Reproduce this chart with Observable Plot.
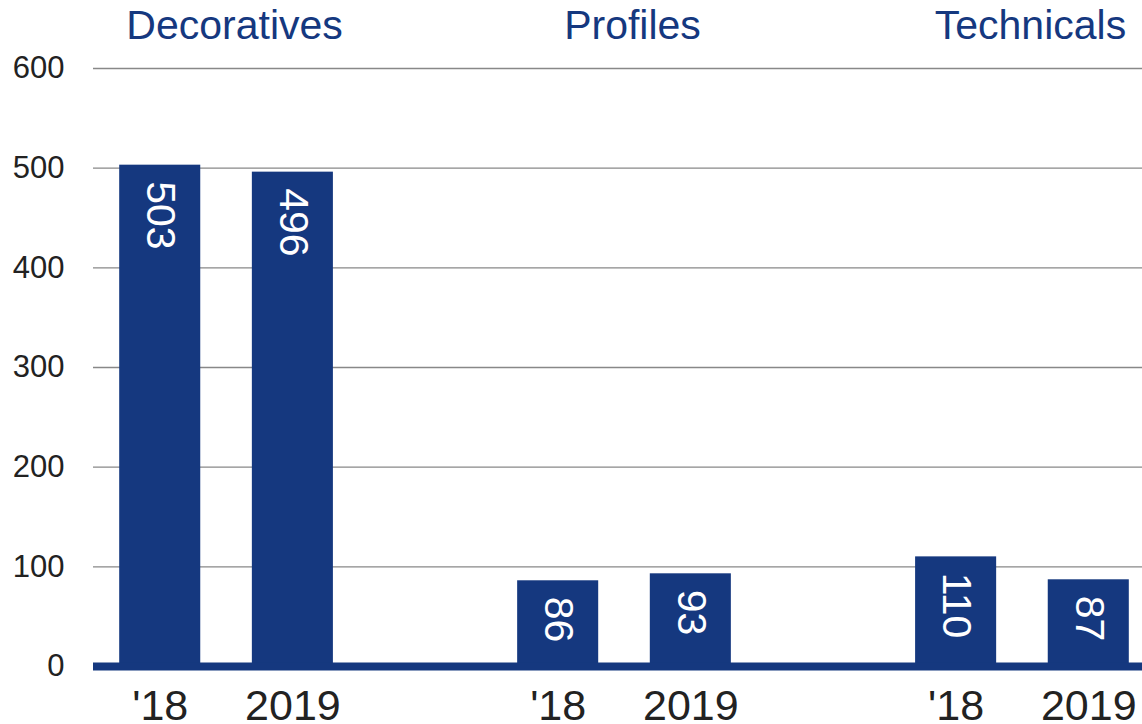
<!DOCTYPE html>
<html>
<head>
<meta charset="utf-8">
<script src="https://cdn.jsdelivr.net/npm/d3@7"></script>
<script src="https://cdn.jsdelivr.net/npm/@observablehq/plot@0.6"></script>
<style>
  html, body { margin: 0; padding: 0; background: #fff; overflow: hidden; }
  #chart svg { display: block; }
</style>
</head>
<body>
<div id="chart"></div>
<script>
// ---- data ----
const groups = ["Decoratives", "Profiles", "Technicals"];
const years = ["'18", "2019"];
const decoratives = [503, 496];
const profiles = [86, 93];
const technicals = [110, 87];
const yTicks = [0, 100, 200, 300, 400, 500, 600];

const seriesByGroup = [decoratives, profiles, technicals];
const data = [];
groups.forEach((g, gi) => years.forEach((y, yi) => data.push({group: g, year: y, key: `${g}|${y}`, value: seriesByGroup[gi][yi]})));

// band domain with empty spacer slots between groups
const xDomain = [];
groups.forEach((g, gi) => {
  years.forEach(y => xDomain.push(`${g}|${y}`));
  if (gi < groups.length - 1) xDomain.push(`gap${gi}`);
});

const blue = "#15387f";
const font = "'Liberation Sans', Arial, Helvetica, sans-serif";

const xOpts = {type: "band", domain: xDomain, range: [93.4, 1154.6], paddingInner: 0.389, paddingOuter: 0.1945, align: 0.5, round: false};
const xs = Plot.scale({x: xOpts});
const halfStep = (xs.apply(`${groups[0]}|${years[1]}`) - xs.apply(`${groups[0]}|${years[0]}`)) / 2;

const chart = Plot.plot({
  width: 1142,
  height: 724,
  marginLeft: 93,
  marginRight: 0,
  marginTop: 68,
  marginBottom: 58,
  style: {fontFamily: font, background: "#fff", color: "#222"},
  x: {...xOpts, axis: null},
  y: {domain: [0, 600], axis: null},
  marks: [
    Plot.gridY(yTicks, {stroke: "#888", strokeOpacity: 1, strokeWidth: 1.4}),
    Plot.barY(data, {x: "key", y: "value", fill: blue}),
    Plot.ruleY([0], {stroke: blue, strokeWidth: 8}),
    Plot.text(data, {
      x: "key", y: "value", text: d => String(d.value),
      rotate: 90, textAnchor: "start", lineAnchor: "middle",
      dy: 16, fill: "white", fontSize: 41
    }),
    Plot.text(groups, {
      x: g => `${g}|${years[0]}`, text: d => d, frameAnchor: "top",
      dx: halfStep + 8, dy: -30, lineAnchor: "bottom", textAnchor: "middle",
      fill: blue, fontSize: 41
    }),
    Plot.axisY(yTicks, {tickSize: 0, tickPadding: 29, fontSize: 31, label: null, fill: "#222"}),
    Plot.axisX(data.map(d => d.key), {
      tickSize: 0, tickPadding: 23, fontSize: 43, label: null, fill: "#222",
      tickFormat: k => k.split("|")[1]
    })
  ]
});
document.getElementById("chart").appendChild(chart);
</script>
</body>
</html>
